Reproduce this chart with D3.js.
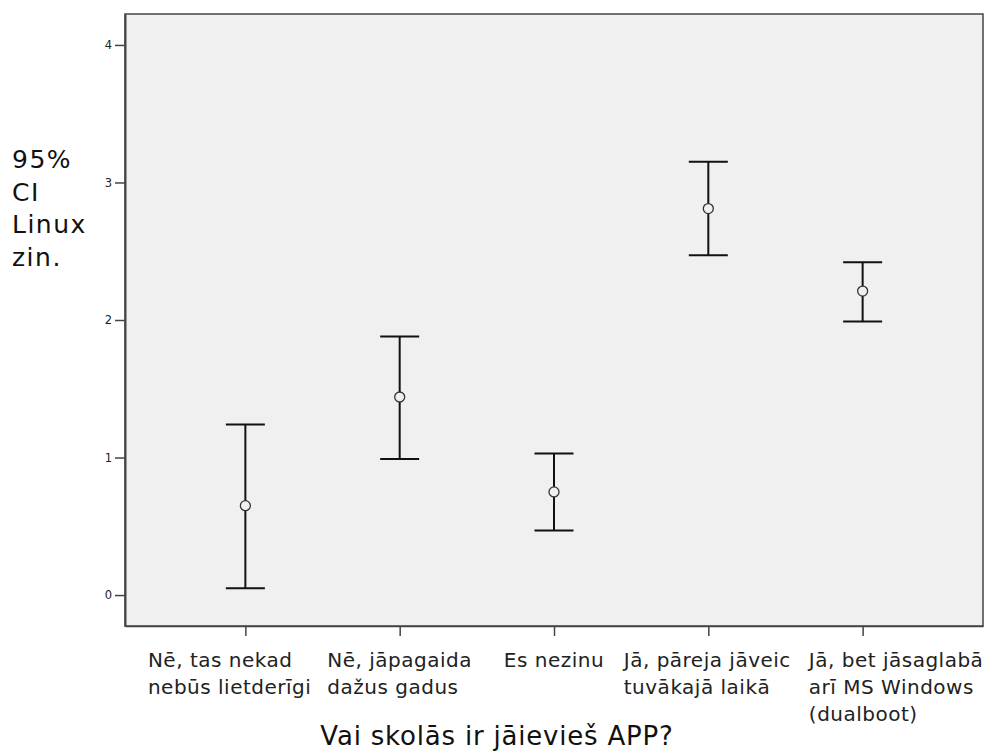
<!DOCTYPE html>
<html>
<head>
<meta charset="utf-8">
<script src="https://cdn.jsdelivr.net/npm/d3@7"></script>
<style>
  html, body { margin: 0; padding: 0; background: #fff; }
  svg { display: block; font-family: "DejaVu Sans", Verdana, sans-serif; }
</style>
</head>
<body>
<svg id="chart" width="996" height="753"></svg>
<script>
// Answer groups (multi-line labels) for "Vai skolās ir jāievieš APP?"
const categories = [
  ["Nē, tas nekad", "nebūs lietderīgi"],
  ["Nē, jāpagaida", "dažus gadus"],
  ["Es nezinu"],
  ["Jā, pāreja jāveic", "tuvākajā laikā"],
  ["Jā, bet jāsaglabā", "arī MS Windows", "(dualboot)"]
];
// Mean Linux knowledge and its 95% confidence interval per group
const means = [0.65, 1.44, 0.75, 2.81, 2.21];
const lower = [0.05, 0.99, 0.47, 2.47, 1.99];
const upper = [1.24, 1.88, 1.03, 3.15, 2.42];
const yTicks = [0, 1, 2, 3, 4];
const yLabelLines = ["95%", "CI", "Linux", "zin."];
const xTitle = "Vai skolās ir jāievieš APP?";

const svg = d3.select("#chart");
const plot = { left: 125, right: 983, top: 14, bottom: 626 };

const x = d3.scalePoint()
  .domain(d3.range(categories.length))
  .range([plot.left, plot.right])
  .padding(0.78);

const y = d3.scaleLinear()
  .domain([-0.225, 4.225])
  .range([plot.bottom, plot.top]);

// plot background and frame
svg.append("rect")
  .attr("x", plot.left).attr("y", plot.top)
  .attr("width", plot.right - plot.left)
  .attr("height", plot.bottom - plot.top)
  .attr("fill", "#f0f0f0")
  .attr("stroke", "#444")
  .attr("stroke-width", 1.5);

// y axis
const yAxis = svg.append("g")
  .attr("transform", `translate(${plot.left},0)`)
  .call(d3.axisLeft(y).tickValues(yTicks).tickFormat(d3.format("d"))
    .tickSize(10).tickSizeOuter(0).tickPadding(3));
yAxis.select(".domain").attr("stroke", "#444").attr("stroke-width", 2);
yAxis.selectAll(".tick line").attr("stroke", "#444").attr("stroke-width", 1.5);
yAxis.selectAll(".tick text")
  .attr("font-size", 11.5)
  .attr("fill", "#222")
  .attr("font-family", "DejaVu Sans, sans-serif");

// x axis (ticks below the frame)
const xAxis = svg.append("g")
  .attr("transform", `translate(0,${plot.bottom})`)
  .call(d3.axisBottom(x).tickSize(10).tickSizeOuter(0).tickFormat(""));
xAxis.select(".domain").attr("stroke", "#444").attr("stroke-width", 1.5);
xAxis.selectAll(".tick line").attr("stroke", "#444").attr("stroke-width", 1.5);

// category labels: left-aligned blocks centred on their tick; blocks
// left of the middle are pushed left and blocks right of it pushed right
// so neighbouring labels keep a minimum gap
const labelSize = 20, lineGap = 27, firstBaseline = 667, minGap = 16;
const blocks = categories.map((lines, i) => {
  const g = svg.append("g");
  const t = g.append("text")
    .attr("font-size", labelSize)
    .attr("letter-spacing", 0.5)
    .attr("fill", "#222");
  lines.forEach((ln, j) => {
    t.append("tspan").attr("x", 0).attr("y", firstBaseline + j * lineGap).text(ln);
  });
  const w = t.node().getBBox().width;
  return { g, w, left: x(i) - w / 2 };
});
const mid = Math.floor(blocks.length / 2);
for (let i = mid - 1; i >= 0; i--) {
  const maxLeft = blocks[i + 1].left - minGap - blocks[i].w;
  if (blocks[i].left > maxLeft) blocks[i].left = maxLeft;
}
for (let i = mid + 1; i < blocks.length; i++) {
  const minLeft = blocks[i - 1].left + blocks[i - 1].w + minGap;
  if (blocks[i].left < minLeft) blocks[i].left = minLeft;
}
blocks.forEach(b => b.g.attr("transform", `translate(${b.left},0)`));

// error bars
const capHalf = 19.5;
const bars = svg.append("g");
categories.forEach((_, i) => {
  const cx = x(i);
  bars.append("line")
    .attr("x1", cx).attr("x2", cx)
    .attr("y1", y(lower[i])).attr("y2", y(upper[i]))
    .attr("stroke", "#111").attr("stroke-width", 2);
  [lower[i], upper[i]].forEach(v => {
    bars.append("line")
      .attr("x1", cx - capHalf).attr("x2", cx + capHalf)
      .attr("y1", y(v)).attr("y2", y(v))
      .attr("stroke", "#111").attr("stroke-width", 2);
  });
  bars.append("circle")
    .attr("cx", cx).attr("cy", y(means[i]))
    .attr("r", 5)
    .attr("fill", "#f0f0f0")
    .attr("stroke", "#333").attr("stroke-width", 1.3);
});

// y axis title
const yt = svg.append("text")
  .attr("font-size", 25)
  .attr("letter-spacing", 1.5)
  .attr("fill", "#111");
yLabelLines.forEach((ln, j) => {
  yt.append("tspan").attr("x", 12).attr("y", 168 + j * 32.5).text(ln);
});

// x axis title
svg.append("text")
  .attr("x", 497).attr("y", 745)
  .attr("text-anchor", "middle")
  .attr("font-size", 26)
  .attr("letter-spacing", 0.8)
  .attr("fill", "#111")
  .text(xTitle);
</script>
</body>
</html>
